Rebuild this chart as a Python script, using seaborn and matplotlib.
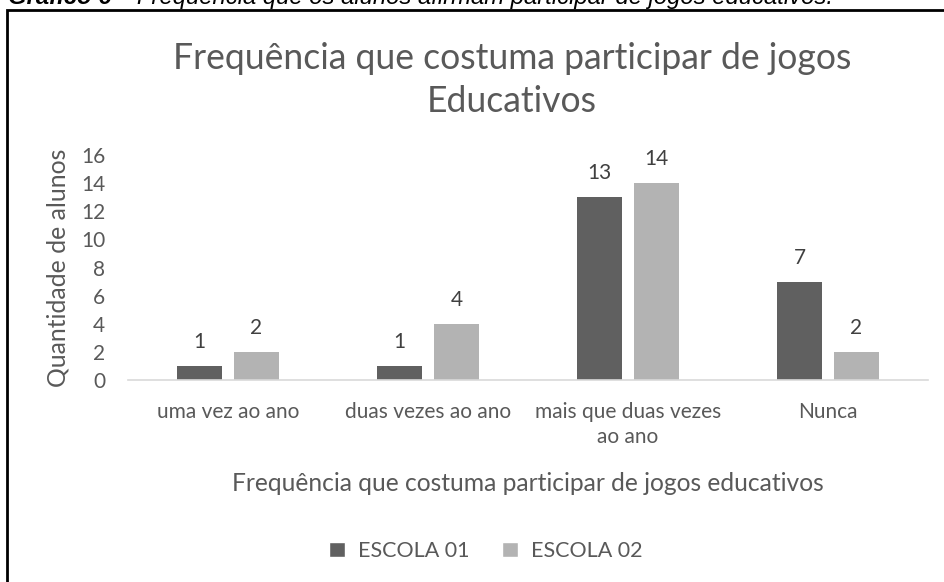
import matplotlib
matplotlib.use("Agg")
import matplotlib.pyplot as plt
import seaborn as sns
import pandas as pd
from matplotlib.patches import Rectangle, Patch

categories = ["uma vez ao ano", "duas vezes ao ano", "mais que duas vezes\nao ano", "Nunca"]
escola01 = [1, 1, 13, 7]
escola02 = [2, 4, 14, 2]
series_names = ["ESCOLA 01", "ESCOLA 02"]
yticks = [0, 2, 4, 6, 8, 10, 12, 14, 16]

df = pd.DataFrame({
    "cat": categories * 2,
    "val": escola01 + escola02,
    "serie": [series_names[0]] * 4 + [series_names[1]] * 4,
})

sns.set_theme(style="white")
plt.rcParams['font.family'] = ['Lato', 'DejaVu Sans']
TXT = "#595959"

W, H = 945, 582
fig = plt.figure(figsize=(W / 100, H / 100), dpi=100)
ax = fig.add_axes([128 / W, 1 - 380 / H, 800 / W, 225 / H])

sns.barplot(data=df, x="cat", y="val", hue="serie", order=categories,
            hue_order=series_names, palette=["#606060", "#b3b3b3"],
            width=0.57, gap=0.21, ax=ax, legend=False, errorbar=None,
            saturation=1, linewidth=0)

for cont in ax.containers:
    ax.bar_label(cont, padding=10, fontsize=15, color="#404040")

ax.set_ylim(0, 16)
ax.set_xlim(-0.5, 3.5)
ax.set_yticks(yticks)
ax.tick_params(axis="both", length=0, labelsize=15, colors=TXT)
ax.tick_params(axis="y", pad=16.5)
ax.tick_params(axis="x", pad=16)
for lab in ax.get_xticklabels():
    lab.set_linespacing(1.3)
for s in ["top", "left", "right"]:
    ax.spines[s].set_visible(False)
ax.spines["bottom"].set_color("#d9d9d9")
ax.spines["bottom"].set_linewidth(1.2)

ax.set_ylabel("Quantidade de alunos", fontsize=17.8, color=TXT, labelpad=8)
ax.set_xlabel("Frequência que costuma participar de jogos educativos",
              fontsize=17.7, color=TXT, labelpad=18)

fig.text(512 / W, 1 - 80 / H, "Frequência que costuma participar de jogos\nEducativos",
         ha="center", va="center", fontsize=25.6, color=TXT, linespacing=1.38)

handles = [Patch(facecolor="#606060"), Patch(facecolor="#b3b3b3")]
fig.legend(handles, series_names, loc="center", bbox_to_anchor=(486 / W, 1 - 551 / H),
           ncol=2, frameon=False, fontsize=15.5, labelcolor=TXT,
           handlelength=0.75, handleheight=0.75, handletextpad=0.6, columnspacing=1.5)

fig.patches.append(Rectangle((7 / W, -0.1), 1.2, 1 - 10 / H + 0.1,
                             transform=fig.transFigure, fill=False,
                             edgecolor="black", linewidth=2, clip_on=False))

t1 = fig.text(8 / W, 1 - 4 / H, "Gráfico 6", family=["Liberation Sans"],
              fontsize=17.2, fontweight="bold", fontstyle="italic", va="baseline", color="black")
fig.canvas.draw()
bb = t1.get_window_extent()
fig.text((bb.x1 + 6) / W, 1 - 4 / H, "– Frequência que os alunos afirmam participar de jogos educativos.",
         family=["Liberation Sans"], fontsize=17.2, fontstyle="italic", va="baseline", color="black")

fig.savefig("out.png", dpi=100)
